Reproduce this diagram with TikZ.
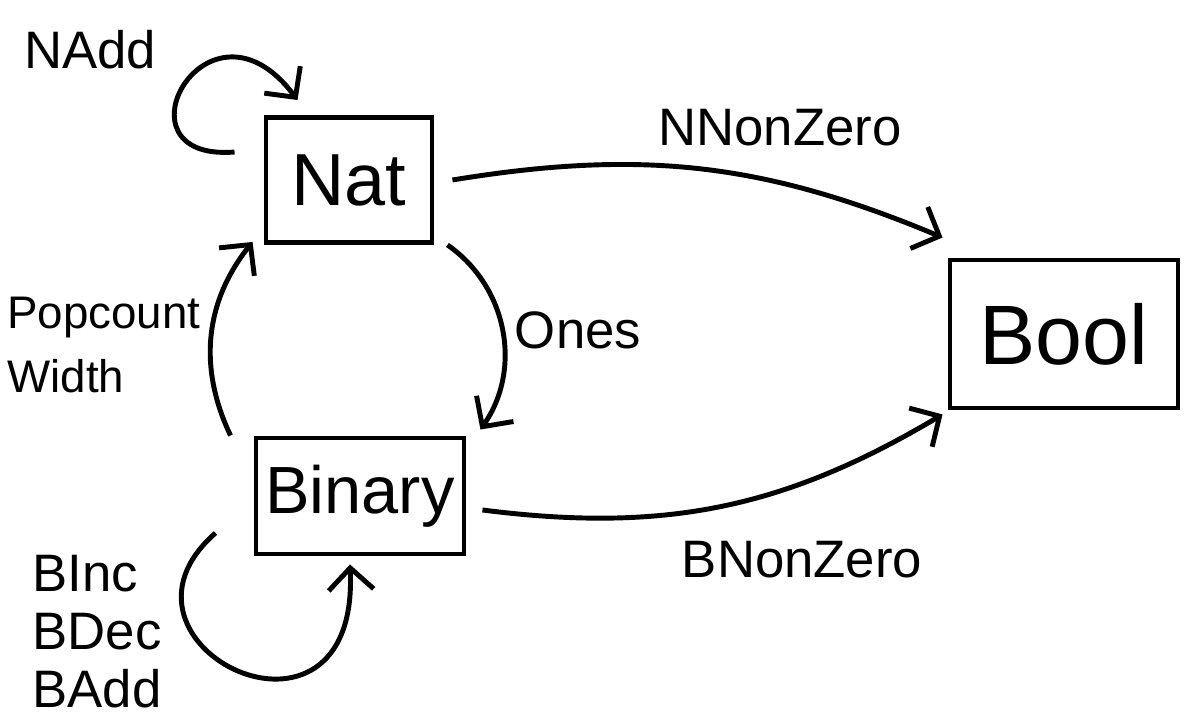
\documentclass[tikz,border=0pt]{standalone}
\usepackage{fontspec}
\setmainfont{Liberation Sans}
\usetikzlibrary{arrows.meta}
\begin{document}
\begin{tikzpicture}[
        box/.style={draw, line width=1.4pt, inner sep=0pt},
        lbl/.style={font=\fontsize{15}{17}\selectfont, align=left},
        arr/.style={line width=1.4pt, -{Straight Barb[length=2.2mm,width=4.5mm]}}
    ]
        \useasboundingbox (0,0) rectangle (12,7.25);
        % Types
        \node [box, minimum width=1.66cm, minimum height=1.25cm, font=\fontsize{21}{25}\selectfont] (nat) at (3.49,5.45) {Nat};
        \node [box, minimum width=2.28cm, minimum height=1.48cm, font=\fontsize{24}{28}\selectfont] (bool) at (10.64,3.91) {Bool};
        \node [box, minimum width=2.08cm, minimum height=1.16cm, font=\fontsize{19}{23}\selectfont] (binary) at (3.60,2.29) {Binary};
        % Labels
        \node [lbl] (nadd) at (0.90,6.75) {NAdd};
        \node [lbl] (nnonzero) at (7.80,5.97) {NNonZero};
        \node [lbl] (ones) at (5.78,3.95) {Ones};
        \node [lbl, font=\fontsize{13}{18}\selectfont, inner sep=0pt] (popwidth) at (1.04,3.80) {Popcount\\Width};
        \node [lbl] (bnonzero) at (8.02,1.65) {BNonZero};
        \node [lbl, font=\fontsize{15}{16.5}\selectfont] (bops) at (0.97,0.93) {BInc\\BDec\\BAdd};
        % Loops
        \draw [arr] ([xshift=-0.29cm,yshift=-0.37cm]nat.north west) .. controls +(-1.27,-0.1) and +(-0.9,1.2) .. ([xshift=0.34cm,yshift=0.15cm]nat.north west);
        \draw [arr] ([xshift=-0.38cm,yshift=-0.37cm]binary.west) .. controls +(-1.28,-1.12) and +(0.1,-2.13) .. ([xshift=-0.1cm,yshift=-0.08cm]binary.south);
        % Conversions
        \draw [arr] ([xshift=0.18cm]nat.east) to [bend left=16] ([xshift=-0.05cm,yshift=0.2cm]bool.north west);
        \draw [arr] ([xshift=0.16cm,yshift=-0.14cm]binary.east) to [bend right=19] ([xshift=-0.05cm,yshift=-0.04cm]bool.south west);
        \draw [arr] ([xshift=0.13cm]nat.south east) to [bend left=45] ([xshift=0.14cm,yshift=0.06cm]binary.north east);
        \draw [arr] ([xshift=-0.23cm]binary.north west) to [bend left=32] ([xshift=-0.11cm,yshift=0.03cm]nat.south west);
    \end{tikzpicture}
\end{document}
